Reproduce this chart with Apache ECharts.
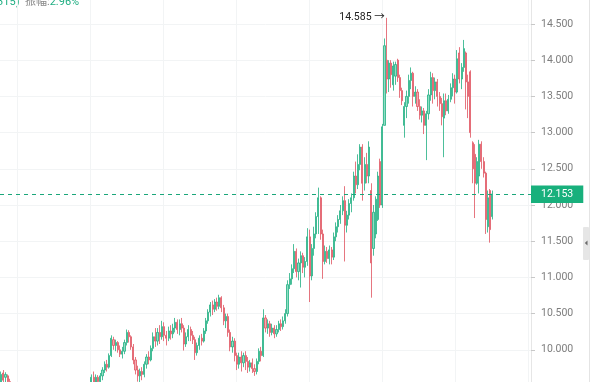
<!DOCTYPE html>
<html><head><meta charset="utf-8">
<script src="https://cdn.jsdelivr.net/npm/echarts@6/dist/echarts.min.js"></script>
<style>html,body{margin:0;padding:0;background:#fff}#c{width:600px;height:382px}</style>
</head><body><div id="c"></div>
<script>
// each row: [open, close, low, high]
const ohlc = [
[9.55,9.66,9.48,9.70],[9.68,9.58,9.50,9.72],[9.62,9.66,9.52,9.69],[9.64,9.56,9.50,9.66],[9.56,9.50,9.40,9.60],
[9.45,9.38,9.30,9.46],[9.38,9.30,9.25,9.42],[9.30,9.34,9.22,9.40],[9.34,9.26,9.20,9.38],[9.26,9.18,9.12,9.30],
[9.18,9.22,9.10,9.28],[9.22,9.15,9.08,9.26],[9.15,9.08,9.02,9.20],[9.08,9.12,9.00,9.18],[9.12,9.05,8.98,9.16],
[9.05,9.10,8.96,9.14],[9.10,9.18,9.04,9.22],[9.18,9.12,9.06,9.24],[9.12,9.20,9.08,9.26],[9.20,9.26,9.14,9.32],
[9.26,9.18,9.12,9.30],[9.18,9.14,9.06,9.24],[9.14,9.22,9.10,9.28],[9.22,9.30,9.16,9.34],[9.30,9.24,9.18,9.36],
[9.24,9.16,9.10,9.28],[9.16,9.20,9.08,9.26],[9.20,9.12,9.04,9.24],[9.12,9.06,9.00,9.18],[9.06,9.14,9.02,9.20],
[9.14,9.22,9.10,9.28],[9.22,9.18,9.12,9.30],[9.18,9.26,9.14,9.32],[9.26,9.32,9.20,9.38],[9.32,9.28,9.22,9.40],
[9.28,9.36,9.24,9.42],[9.36,9.30,9.26,9.42],[9.30,9.38,9.26,9.44],[9.38,9.34,9.28,9.44],[9.34,9.40,9.30,9.45],
[9.40,9.44,9.34,9.46],
[9.48,9.62,9.45,9.66],[9.62,9.55,9.50,9.70],[9.55,9.62,9.50,9.66],[9.62,9.56,9.50,9.65],[9.56,9.64,9.52,9.68],
[9.64,9.72,9.58,9.76],[9.72,9.80,9.68,9.84],[9.80,9.76,9.70,9.86],[9.76,9.92,9.74,9.95],[9.92,10.16,9.90,10.20],
[10.14,10.06,10.00,10.18],[10.06,10.10,9.98,10.14],[10.10,10.00,9.96,10.12],[10.00,9.94,9.90,10.06],[9.94,9.98,9.88,10.04],
[9.98,10.10,9.94,10.14],[10.10,10.24,10.06,10.28],[10.24,10.18,10.10,10.27],[10.18,10.04,10.00,10.20],[10.04,9.86,9.80,10.08],
[9.86,9.72,9.66,9.90],[9.72,9.64,9.56,9.78],[9.64,9.70,9.54,9.74],[9.70,9.66,9.58,9.76],[9.66,9.80,9.62,9.84],
[9.80,9.90,9.74,9.94],[9.90,9.86,9.80,9.98],[9.86,10.02,9.84,10.06],[10.02,10.18,9.98,10.24],[10.18,10.12,10.04,10.30],
[10.12,10.24,10.06,10.30],[10.24,10.18,10.08,10.34],[10.18,10.32,10.14,10.40],[10.32,10.20,10.12,10.38],[10.20,10.16,10.06,10.26],
[10.16,10.26,10.12,10.32],[10.26,10.22,10.14,10.34],[10.22,10.30,10.16,10.36],[10.30,10.38,10.24,10.44],[10.38,10.28,10.22,10.42],
[10.28,10.36,10.20,10.42],[10.36,10.30,10.24,10.44],[10.30,10.08,9.99,10.34],[10.08,10.18,10.04,10.24],[10.18,10.28,10.12,10.34],
[10.28,10.20,10.12,10.32],[10.20,10.14,10.08,10.26],[10.14,9.96,9.86,10.18],[9.96,10.06,9.92,10.10],[10.06,10.16,10.00,10.20],
[10.16,10.12,10.06,10.22],[10.12,10.26,10.10,10.30],[10.26,10.40,10.22,10.44],[10.40,10.52,10.36,10.56],[10.52,10.62,10.46,10.66],
[10.62,10.56,10.48,10.68],[10.56,10.66,10.52,10.70],[10.66,10.60,10.54,10.72],[10.60,10.72,10.56,10.76],[10.72,10.58,10.52,10.74],
[10.58,10.40,10.34,10.62],[10.40,10.46,10.30,10.50],[10.46,10.24,10.18,10.50],[10.24,10.04,9.98,10.28],[10.04,10.12,9.96,10.18],
[10.12,9.92,9.84,10.16],[9.92,9.80,9.72,9.96],[9.80,9.90,9.74,9.96],[9.90,9.82,9.70,9.98],[9.82,9.92,9.76,9.96],
[9.92,9.84,9.72,9.98],[9.84,9.76,9.68,9.90],[9.76,9.82,9.70,9.86],[9.82,9.74,9.68,9.88],[9.74,9.70,9.64,9.80],
[9.70,9.84,9.66,9.88],[9.84,9.98,9.80,10.02],[9.98,9.92,9.84,10.04],[9.92,10.44,9.90,10.56],[10.44,10.30,10.24,10.48],
[10.30,10.36,10.22,10.42],[10.36,10.24,10.18,10.40],[10.24,10.30,10.20,10.36],[10.30,10.22,10.16,10.34],[10.22,10.28,10.18,10.34],
[10.28,10.36,10.24,10.40],[10.36,10.32,10.26,10.42],[10.32,10.40,10.28,10.46],[10.40,10.50,10.36,10.56],[10.50,10.90,10.46,10.96],
[10.90,10.98,10.84,11.06],[10.98,11.12,10.90,11.18],[11.12,11.36,11.06,11.46],[11.36,11.08,11.00,11.40],[11.08,11.20,10.96,11.26],
[11.20,11.30,10.86,11.36],[11.30,11.14,11.06,11.34],[11.14,11.22,11.00,11.28],[11.22,11.56,11.16,11.68],[11.56,11.02,10.66,11.66],
[11.02,11.40,10.96,11.46],[11.40,11.60,11.30,11.70],[11.60,11.84,11.54,11.90],[11.84,12.10,11.60,12.24],[12.10,11.60,11.52,12.12],
[11.60,11.22,10.98,11.66],[11.22,11.36,11.18,11.44],[11.36,11.26,11.20,11.42],[11.26,11.38,11.18,11.44],[11.38,11.28,11.18,11.42],
[11.28,11.56,11.24,11.62],[11.56,11.70,11.50,11.76],[11.70,11.80,11.62,11.86],[11.80,11.92,11.74,12.00],[11.92,12.06,11.86,12.12],
[12.06,11.72,11.22,12.26],[11.72,11.86,11.62,11.92],[11.86,12.02,11.80,12.08],[12.02,12.10,11.90,12.16],[12.10,12.40,12.06,12.46],
[12.40,12.28,12.16,12.60],[12.28,12.56,12.22,12.70],[12.56,12.80,12.48,12.84],[12.80,12.30,12.06,12.84],[12.30,12.56,12.20,12.66],
[12.56,12.40,12.30,12.72],[12.40,12.80,12.30,12.88],[12.20,11.20,10.72,12.30],[11.40,11.90,11.30,12.00],[11.60,12.08,11.54,12.12],
[11.80,12.40,11.78,12.46],[12.60,12.00,11.96,12.64],[12.00,13.08,11.96,13.12],[13.10,14.20,13.10,14.30],[14.00,13.74,13.54,14.585],
[13.74,13.96,13.56,14.00],[13.96,13.80,13.62,14.00],[13.66,13.92,13.58,13.98],[13.78,13.94,13.66,13.98],[14.00,13.76,13.70,14.02],
[13.76,13.58,13.48,13.80],[13.58,13.44,13.38,13.62],[13.10,13.36,12.93,13.42],[13.36,13.50,13.20,13.58],[13.50,13.72,13.40,13.80],
[13.72,13.82,13.60,13.90],[13.82,13.50,13.36,13.84],[13.50,13.56,13.40,13.64],[13.56,13.36,13.30,13.60],[13.36,13.24,13.18,13.46],
[13.24,13.30,13.14,13.36],[13.30,13.10,12.98,13.34],[13.10,13.26,12.62,13.30],[13.26,13.52,13.18,13.60],[13.52,13.76,13.44,13.84],
[13.76,13.58,13.40,13.82],[13.58,13.70,13.46,13.76],[13.70,13.50,13.36,13.74],[13.50,13.40,13.30,13.56],[13.40,13.22,13.10,13.48],
[13.20,13.44,12.66,13.54],[13.44,13.30,13.24,13.54],[13.30,13.46,13.26,13.52],[13.46,13.62,13.42,13.68],[13.62,13.74,13.50,13.82],
[13.74,13.56,13.40,13.80],[13.56,14.02,13.54,14.14],[14.10,13.74,13.68,14.18],[13.74,13.90,13.60,13.96],[13.90,14.16,13.84,14.28],
[14.10,13.70,13.32,14.12],[13.70,13.50,13.20,13.80],[13.84,13.00,12.93,13.86],[12.86,12.50,12.30,12.88],[12.70,12.30,11.82,12.84],
[12.30,12.60,12.28,12.66],[12.40,12.84,12.16,12.90],[12.84,12.60,12.50,12.88],[12.60,12.44,12.38,12.66],[12.44,11.80,11.60,12.46],
[11.70,12.10,11.62,12.20],[12.20,11.66,11.48,12.22],[11.84,12.153,11.80,12.20]
];
const totalSlots = 241;          // category slots on the x axis (data + empty space on the right)
const lastPrice = 12.153;
const headPrefix = '(+0.315)';
const headLabel = '振幅:';
const headValue = '2.96%';

const categories = [];
for (let i = 0; i < totalSlots; i++) categories.push('D' + (i + 1));
const candleData = ohlc.map(r => [r[0], r[1], r[2], r[3]]);

const GREEN = '#1fae82', RED = '#e0535f', DASH = '#1aa67a';
const FONT = 'Roboto, "Noto Sans CJK SC", sans-serif';

const chart = echarts.init(document.getElementById('c'), null, {renderer: 'canvas'});
chart.setOption({
  animation: false,
  backgroundColor: '#fff',
  grid: [
    {left: 0, right: 69, top: -12.2, bottom: -40.2, containLabel: false, outerBoundsMode: 'none'},
    {left: -56, right: 69, top: -12.2, bottom: -40.2, containLabel: false, outerBoundsMode: 'none'}
  ],
  xAxis: [
    {type: 'category', data: categories, gridIndex: 0, boundaryGap: true,
     axisLine: {show: false}, axisTick: {show: false}, axisLabel: {show: false}, splitLine: {show: false}},
    {type: 'value', gridIndex: 1, min: 0, max: 587, interval: 73,
     axisLine: {show: false}, axisTick: {show: false}, axisLabel: {show: false},
     splitLine: {show: true, lineStyle: {color: '#f2f4f5', width: 1}}}
  ],
  yAxis: [
    {type: 'value', gridIndex: 0, position: 'right', min: 9, max: 15, interval: 0.5,
     axisLine: {show: true, lineStyle: {color: '#e6e6e6'}},
     axisTick: {show: true, length: 4, lineStyle: {color: '#c8c8c8'}},
     axisLabel: {show: true, margin: 10, color: '#7d7d7d', fontSize: 10.5, fontFamily: FONT,
       formatter: v => (v < 9.9 || v > 14.9) ? '' : v.toFixed(3)},
     splitLine: {show: true, lineStyle: {color: '#f2f4f5', width: 1}}},
    {type: 'value', gridIndex: 1, min: 0, max: 1, show: false, splitLine: {show: false}}
  ],
  series: [{
    type: 'candlestick',
    xAxisIndex: 0, yAxisIndex: 0,
    data: candleData,
    barWidth: 1.6,
    itemStyle: {color: '#8fdec3', color0: '#f4aab0', borderColor: GREEN, borderColor0: RED, borderWidth: 0.8},
    markLine: {
      silent: true, symbol: ['none', 'none'],
      data: [{yAxis: lastPrice, lineStyle: {color: DASH, type: [4, 4], width: 1}}],
      lineStyle: {color: DASH, type: [4, 4], width: 1},
      label: {show: true, position: 'end', distance: 0,
        formatter: () => lastPrice.toFixed(3),
        backgroundColor: '#18b07c', color: '#fff', fontSize: 10.5, fontFamily: FONT,
        padding: [4, 10, 3, 10]}
    },
    markPoint: {
      symbol: 'circle', symbolSize: 0,
      data: [{type: 'max', valueDim: 'highest'}],
      label: {show: true, position: 'left', distance: 2, color: '#222', fontSize: 10.5, fontFamily: FONT,
        formatter: p => Number(p.value).toFixed(3) + ' →'}
    }
  }],
  graphic: [
    {type: 'text', x: 19.5, y: 2, style: {text: headPrefix, fill: GREEN, font: '11px ' + FONT, align: 'right', verticalAlign: 'middle'}},
    {type: 'text', x: 25, y: 2, style: {
      text: headLabel + '{g|' + headValue + '}', fill: '#8a8a8a', font: '11px ' + FONT, verticalAlign: 'middle',
      rich: {g: {fill: GREEN, font: '11px ' + FONT}}}},
    {type: 'line', shape: {x1: 589.5, y1: 0, x2: 589.5, y2: 382}, style: {stroke: '#e4e4e4', lineWidth: 1}},
    {type: 'rect', shape: {x: 583, y: 227, width: 6, height: 33, r: 1}, style: {fill: '#e6e6e6'}},
    {type: 'polygon', shape: {points: [[587.5, 240.5], [587.5, 245.5], [584.8, 243]]}, style: {fill: '#6b6b6b'}}
  ]
});
</script>
</body></html>
